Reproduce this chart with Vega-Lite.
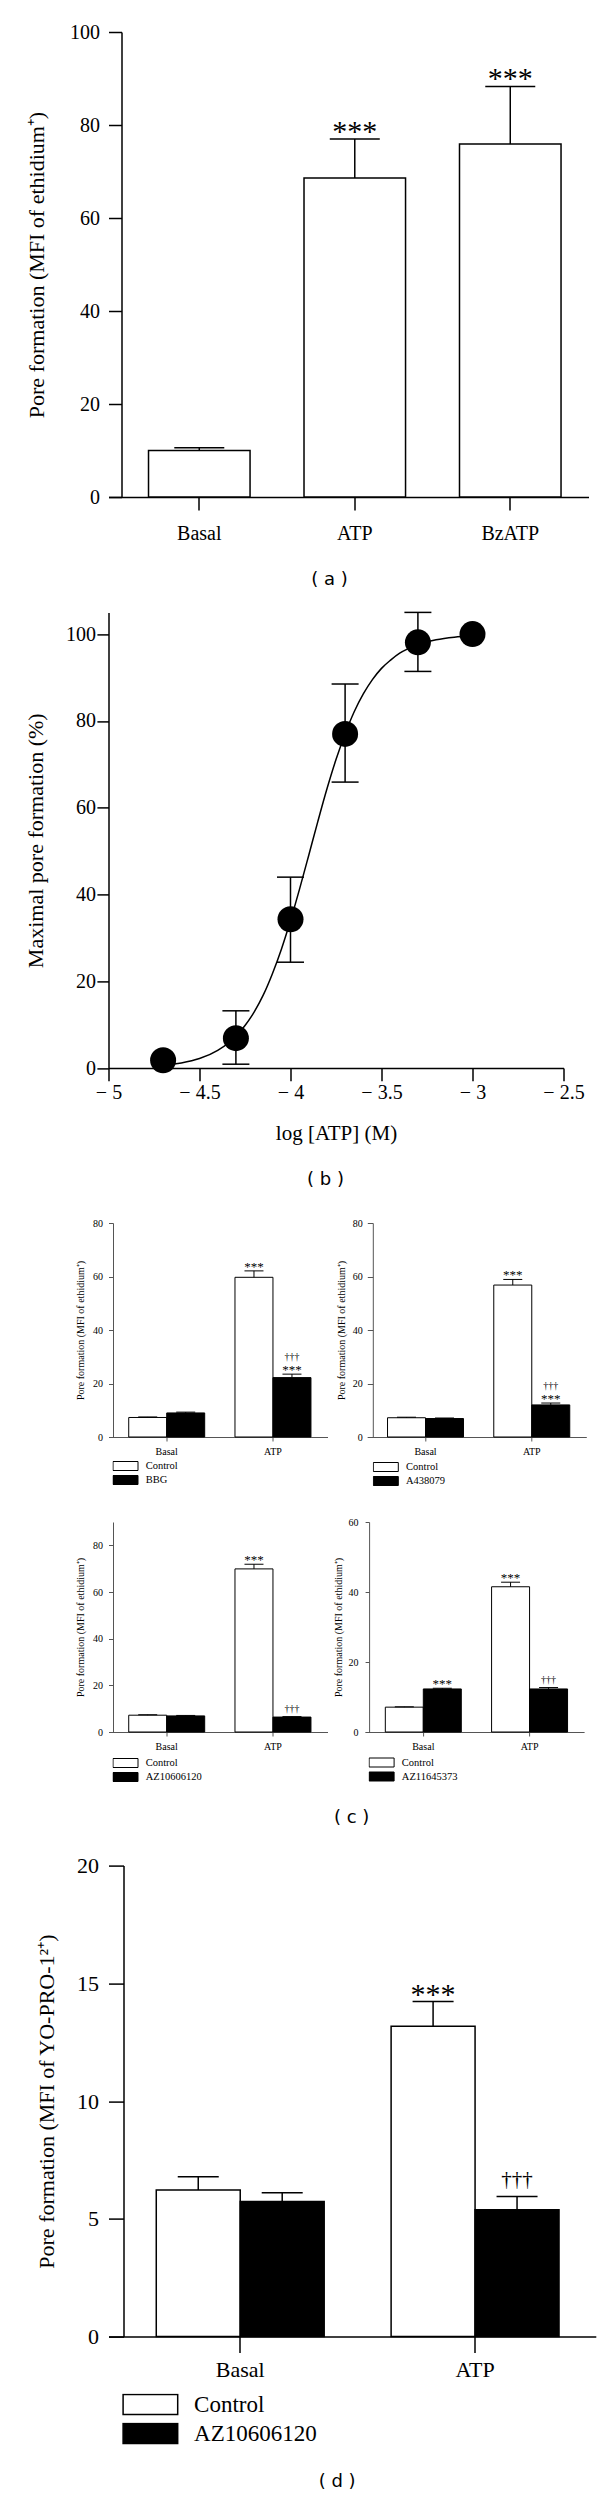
{
  "$schema": "https://vega.github.io/schema/vega-lite/v6.json",
  "padding": {"left": 23.5, "top": 22, "right": 5, "bottom": 2},
  "background": "white",
  "config": {
    "view": {"stroke": null},
    "font": "Liberation Serif",
    "axis": {"grid": false, "labelFont": "Liberation Serif", "titleFont": "Liberation Serif", "titleFontWeight": "normal", "labelColor": "black", "titleColor": "black", "domainColor": "black", "tickColor": "black", "labelFlush": false, "labelOverlap": false},
    "legend": {"labelFont": "Liberation Serif", "labelColor": "black"},
    "title": {"font": "DejaVu Sans", "fontSize": 18, "fontWeight": "normal", "color": "black"}
  },
  "datasets": {
    "a": [
      {"cond": "Basal", "v": 10.0, "hi": 10.6, "ann": ""},
      {"cond": "ATP", "v": 68.6, "hi": 77.0, "ann": "***"},
      {"cond": "BzATP", "v": 75.9, "hi": 88.3, "ann": "***"}
    ],
    "bpts": [
      {"x": -4.7, "y": 1.8},
      {"x": -4.3, "y": 6.9, "lo": 0.9, "hi": 13.2},
      {"x": -4.0, "y": 34.3, "lo": 24.4, "hi": 44.0},
      {"x": -3.7, "y": 77.0, "lo": 65.9, "hi": 88.5},
      {"x": -3.3, "y": 98.1, "lo": 91.4, "hi": 105.0},
      {"x": -3.0, "y": 100.0}
    ],
    "bcurve": [
      {"x": -4.70, "y": 0.7}, {"x": -4.60, "y": 1.2}, {"x": -4.50, "y": 2.2}, {"x": -4.40, "y": 4.1},
      {"x": -4.30, "y": 7.3}, {"x": -4.25, "y": 9.8}, {"x": -4.20, "y": 12.9}, {"x": -4.15, "y": 16.8},
      {"x": -4.10, "y": 21.7}, {"x": -4.05, "y": 27.4}, {"x": -4.00, "y": 34.0}, {"x": -3.95, "y": 41.3},
      {"x": -3.90, "y": 49.0}, {"x": -3.85, "y": 56.8}, {"x": -3.80, "y": 64.3}, {"x": -3.75, "y": 71.1},
      {"x": -3.70, "y": 77.0}, {"x": -3.65, "y": 82.1}, {"x": -3.60, "y": 86.2}, {"x": -3.55, "y": 89.5},
      {"x": -3.50, "y": 92.1}, {"x": -3.45, "y": 94.0}, {"x": -3.40, "y": 95.6}, {"x": -3.35, "y": 96.7},
      {"x": -3.30, "y": 97.6}, {"x": -3.20, "y": 98.7}, {"x": -3.10, "y": 99.3}, {"x": -3.00, "y": 99.6}
    ],
    "c1": [
      {"cond": "Basal", "trt": "Control", "v": 7.3, "hi": 7.5, "star": "", "dag": ""},
      {"cond": "Basal", "trt": "BBG", "v": 9.0, "hi": 9.3, "star": "", "dag": ""},
      {"cond": "ATP", "trt": "Control", "v": 59.7, "hi": 62.1, "star": "***", "dag": ""},
      {"cond": "ATP", "trt": "BBG", "v": 22.2, "hi": 23.5, "star": "***", "dag": "†††"}
    ],
    "c2": [
      {"cond": "Basal", "trt": "Control", "v": 7.2, "hi": 7.4, "star": "", "dag": ""},
      {"cond": "Basal", "trt": "A438079", "v": 6.9, "hi": 7.1, "star": "", "dag": ""},
      {"cond": "ATP", "trt": "Control", "v": 56.8, "hi": 58.9, "star": "***", "dag": ""},
      {"cond": "ATP", "trt": "A438079", "v": 12.0, "hi": 12.7, "star": "***", "dag": "†††"}
    ],
    "c3": [
      {"cond": "Basal", "trt": "Control", "v": 7.2, "hi": 7.4, "star": "", "dag": ""},
      {"cond": "Basal", "trt": "AZ10606120", "v": 6.9, "hi": 7.1, "star": "", "dag": ""},
      {"cond": "ATP", "trt": "Control", "v": 69.9, "hi": 71.9, "star": "***", "dag": ""},
      {"cond": "ATP", "trt": "AZ10606120", "v": 6.4, "hi": 6.6, "star": "", "dag": "†††"}
    ],
    "c4": [
      {"cond": "Basal", "trt": "Control", "v": 7.1, "hi": 7.2, "star": "", "dag": ""},
      {"cond": "Basal", "trt": "AZ11645373", "v": 12.3, "hi": 12.5, "star": "***", "dag": ""},
      {"cond": "ATP", "trt": "Control", "v": 41.5, "hi": 42.8, "star": "***", "dag": ""},
      {"cond": "ATP", "trt": "AZ11645373", "v": 12.3, "hi": 12.7, "star": "", "dag": "†††"}
    ],
    "d": [
      {"cond": "Basal", "trt": "Control", "v": 6.23, "hi": 6.79, "star": "", "dag": ""},
      {"cond": "Basal", "trt": "AZ10606120", "v": 5.74, "hi": 6.11, "star": "", "dag": ""},
      {"cond": "ATP", "trt": "Control", "v": 13.18, "hi": 14.23, "star": "***", "dag": ""},
      {"cond": "ATP", "trt": "AZ10606120", "v": 5.39, "hi": 5.95, "star": "", "dag": "†††"}
    ]
  },
  "columns": 1,
  "align": "none",
  "spacing": 22.4,
  "resolve": {"scale": {"fill": "independent", "x": "independent", "y": "independent", "xOffset": "independent"}, "legend": {"fill": "independent"}},
  "concat": [
    {
      "width": 480, "height": 465,
      "data": {"name": "a"},
      "title": {"text": "( a )", "orient": "bottom", "anchor": "middle", "frame": "group", "offset": 28, "dx": -19},
      "encoding": {
        "x": {"field": "cond", "type": "nominal", "sort": ["Basal", "ATP", "BzATP"],
          "scale": {"paddingInner": 0.347, "paddingOuter": 0.217, "align": 0.593},
          "axis": {"title": null, "labelAngle": 0, "labelFontSize": 20, "labelPadding": 13, "tickSize": 13, "tickWidth": 1.5, "domainWidth": 1.5}}
      },
      "layer": [
        {"mark": {"type": "bar", "fill": "white", "stroke": "black", "strokeWidth": 1.5},
         "encoding": {"y": {"field": "v", "type": "quantitative", "scale": {"domain": [0, 100], "nice": false},
           "axis": {"title": "Pore formation (MFI of ethidium⁺)", "values": [0, 20, 40, 60, 80, 100], "offset": -13, "tickSize": 13, "tickWidth": 1.5, "domainWidth": 1.5, "labelFontSize": 20, "labelPadding": 9, "titleFontSize": 22, "titlePadding": 21}}}},
        {"mark": {"type": "rule", "color": "black", "strokeWidth": 1.5},
         "encoding": {"y": {"field": "v", "type": "quantitative"}, "y2": {"field": "hi"}}},
        {"mark": {"type": "tick", "orient": "horizontal", "size": 50, "thickness": 1.5, "color": "black", "opacity": 1},
         "encoding": {"y": {"field": "hi", "type": "quantitative"}}},
        {"mark": {"type": "text", "fontSize": 30, "color": "black", "baseline": "alphabetic", "dy": 2},
         "encoding": {"y": {"field": "hi", "type": "quantitative"}, "text": {"field": "ann"}}}
      ]
    },
    {
      "columns": 1,
      "align": "none",
      "spacing": 28.6,
      "resolve": {"scale": {"fill": "independent", "x": "independent", "y": "independent", "xOffset": "independent"}, "legend": {"fill": "independent"}},
      "concat": [
        {
          "width": 455, "height": 455.7,
          "title": {"text": "( b )", "orient": "bottom", "anchor": "middle", "frame": "group", "offset": 27, "dx": -10.5},
          "layer": [
            {"data": {"name": "bcurve"},
             "mark": {"type": "line", "color": "black", "strokeWidth": 1.5, "interpolate": "monotone"},
             "encoding": {
               "x": {"field": "x", "type": "quantitative", "scale": {"domain": [-5, -2.5], "nice": false, "zero": false},
                 "axis": {"title": "log [ATP] (M)", "values": [-5, -4.5, -4, -3.5, -3, -2.5], "labelExpr": "'− ' + format(-datum.value, '')", "tickSize": 12.7, "tickWidth": 1.5, "domainWidth": 1.5, "labelPadding": 2, "labelFontSize": 20, "titleFontSize": 21, "titlePadding": 20}},
               "y": {"field": "y", "type": "quantitative", "scale": {"domain": [0, 105], "nice": false},
                 "axis": {"title": "Maximal pore formation (%)", "values": [0, 20, 40, 60, 80, 100], "tickSize": 11.6, "tickWidth": 1.5, "domainWidth": 1.5, "labelPadding": 1.5, "labelFontSize": 20, "titleFontSize": 22, "titlePadding": 18.2}}
             }},
            {"data": {"name": "bpts"},
             "mark": {"type": "rule", "color": "black", "strokeWidth": 1.5},
             "encoding": {"x": {"field": "x", "type": "quantitative"}, "y": {"field": "lo", "type": "quantitative"}, "y2": {"field": "hi"}}},
            {"data": {"name": "bpts"},
             "mark": {"type": "tick", "orient": "horizontal", "size": 27, "thickness": 1.5, "color": "black", "opacity": 1},
             "encoding": {"x": {"field": "x", "type": "quantitative"}, "y": {"field": "lo", "type": "quantitative"}}},
            {"data": {"name": "bpts"},
             "mark": {"type": "tick", "orient": "horizontal", "size": 27, "thickness": 1.5, "color": "black", "opacity": 1},
             "encoding": {"x": {"field": "x", "type": "quantitative"}, "y": {"field": "hi", "type": "quantitative"}}},
            {"data": {"name": "bpts"},
             "mark": {"type": "point", "filled": true, "color": "black", "opacity": 1, "size": 676},
             "encoding": {"x": {"field": "x", "type": "quantitative"}, "y": {"field": "y", "type": "quantitative"}}}
          ]
        },
        {
          "columns": 1,
          "align": "none",
          "spacing": 30,
          "resolve": {"scale": {"fill": "independent", "x": "independent", "y": "independent", "xOffset": "independent"}, "legend": {"fill": "independent"}},
          "concat": [
            {
              "hconcat": [
                {
                  "width": 219, "height": 214,
                  "data": {"name": "c1"},
                  "encoding": {
                    "x": {"field": "cond", "type": "nominal", "sort": ["Basal", "ATP"], "scale": {"paddingInner": 0.285, "paddingOuter": 0.173, "align": 0.55},
                      "axis": {"title": null, "labelAngle": 0, "labelFontSize": 10, "labelPadding": 5, "tickSize": 4, "domainColor": "#555", "tickColor": "#555"}},
                    "xOffset": {"field": "trt", "type": "nominal", "sort": ["Control", "BBG"], "scale": {"paddingInner": 0, "paddingOuter": 0}}
                  },
                  "layer": [
                    {"mark": {"type": "bar", "stroke": "black", "strokeWidth": 1},
                     "encoding": {
                       "y": {"field": "v", "type": "quantitative", "scale": {"domain": [0, 80], "nice": false},
                         "axis": {"title": "Pore formation (MFI of ethidium⁺)", "values": [0, 20, 40, 60, 80], "offset": -4.5, "tickSize": 4.5, "labelPadding": 6, "labelFontSize": 10, "titleFontSize": 10, "titlePadding": 7.4, "domainColor": "#555", "tickColor": "#555"}},
                       "fill": {"field": "trt", "type": "nominal", "scale": {"domain": ["Control", "BBG"], "range": ["white", "black"]},
                         "legend": {"title": null, "orient": "none", "legendX": 4, "legendY": 237.5, "symbolType": "M-1,-0.36H1V0.36H-1Z", "symbolSize": 625, "symbolStrokeColor": "black", "symbolStrokeWidth": 1, "clipHeight": 11, "rowPadding": 3, "labelFontSize": 10.5, "labelOffset": 7.2, "padding": 0}}
                     }},
                    {"mark": {"type": "rule", "color": "black", "strokeWidth": 1}, "encoding": {"y": {"field": "v", "type": "quantitative"}, "y2": {"field": "hi"}}},
                    {"mark": {"type": "tick", "orient": "horizontal", "size": 19, "thickness": 1, "color": "black", "opacity": 1}, "encoding": {"y": {"field": "hi", "type": "quantitative"}}},
                    {"mark": {"type": "text", "fontSize": 13, "color": "black", "baseline": "alphabetic", "dy": 0}, "encoding": {"y": {"field": "hi", "type": "quantitative"}, "text": {"field": "star"}}},
                    {"transform": [{"filter": "datum.dag != '' && datum.star == ''"}], "mark": {"type": "text", "fontSize": 10, "color": "black", "baseline": "alphabetic", "dy": -5}, "encoding": {"y": {"field": "hi", "type": "quantitative"}, "text": {"field": "dag"}}},
                    {"transform": [{"filter": "datum.dag != '' && datum.star != ''"}], "mark": {"type": "text", "fontSize": 10, "color": "black", "baseline": "alphabetic", "dy": -14}, "encoding": {"y": {"field": "hi", "type": "quantitative"}, "text": {"field": "dag"}}}
                  ]
                },
                {
                  "width": 219, "height": 214,
                  "data": {"name": "c2"},
                  "encoding": {
                    "x": {"field": "cond", "type": "nominal", "sort": ["Basal", "ATP"], "scale": {"paddingInner": 0.285, "paddingOuter": 0.173, "align": 0.55},
                      "axis": {"title": null, "labelAngle": 0, "labelFontSize": 10, "labelPadding": 5, "tickSize": 4, "domainColor": "#555", "tickColor": "#555"}},
                    "xOffset": {"field": "trt", "type": "nominal", "sort": ["Control", "A438079"], "scale": {"paddingInner": 0, "paddingOuter": 0}}
                  },
                  "layer": [
                    {"mark": {"type": "bar", "stroke": "black", "strokeWidth": 1},
                     "encoding": {
                       "y": {"field": "v", "type": "quantitative", "scale": {"domain": [0, 80], "nice": false},
                         "axis": {"title": "Pore formation (MFI of ethidium⁺)", "values": [0, 20, 40, 60, 80], "offset": -5.5, "tickSize": 5.5, "labelPadding": 5, "labelFontSize": 10, "titleFontSize": 10, "titlePadding": 5.6, "domainColor": "#555", "tickColor": "#555"}},
                       "fill": {"field": "trt", "type": "nominal", "scale": {"domain": ["Control", "A438079"], "range": ["white", "black"]},
                         "legend": {"title": null, "orient": "none", "legendX": 5.5, "legendY": 238.5, "symbolType": "M-1,-0.36H1V0.36H-1Z", "symbolSize": 625, "symbolStrokeColor": "black", "symbolStrokeWidth": 1, "clipHeight": 11, "rowPadding": 3, "labelFontSize": 10.5, "labelOffset": 7.2, "padding": 0}}
                     }},
                    {"mark": {"type": "rule", "color": "black", "strokeWidth": 1}, "encoding": {"y": {"field": "v", "type": "quantitative"}, "y2": {"field": "hi"}}},
                    {"mark": {"type": "tick", "orient": "horizontal", "size": 19, "thickness": 1, "color": "black", "opacity": 1}, "encoding": {"y": {"field": "hi", "type": "quantitative"}}},
                    {"mark": {"type": "text", "fontSize": 13, "color": "black", "baseline": "alphabetic", "dy": 0}, "encoding": {"y": {"field": "hi", "type": "quantitative"}, "text": {"field": "star"}}},
                    {"transform": [{"filter": "datum.dag != '' && datum.star == ''"}], "mark": {"type": "text", "fontSize": 10, "color": "black", "baseline": "alphabetic", "dy": -5}, "encoding": {"y": {"field": "hi", "type": "quantitative"}, "text": {"field": "dag"}}},
                    {"transform": [{"filter": "datum.dag != '' && datum.star != ''"}], "mark": {"type": "text", "fontSize": 10, "color": "black", "baseline": "alphabetic", "dy": -14}, "encoding": {"y": {"field": "hi", "type": "quantitative"}, "text": {"field": "dag"}}}
                  ]
                }
              ],
              "spacing": 8.8,
              "resolve": {"scale": {"fill": "independent", "x": "independent", "y": "independent", "xOffset": "independent"}, "legend": {"fill": "independent"}}
            },
            {
              "columns": 1,
              "align": "none",
              "spacing": 27.6,
              "resolve": {"scale": {"fill": "independent", "x": "independent", "y": "independent", "xOffset": "independent"}, "legend": {"fill": "independent"}},
              "concat": [
                {
                  "title": {"text": "( c )", "orient": "bottom", "anchor": "middle", "frame": "bounds", "offset": 26.4, "dx": 22},
                  "hconcat": [
                    {
                      "width": 219, "height": 210,
                      "data": {"name": "c3"},
                      "encoding": {
                        "x": {"field": "cond", "type": "nominal", "sort": ["Basal", "ATP"], "scale": {"paddingInner": 0.285, "paddingOuter": 0.173, "align": 0.55},
                          "axis": {"title": null, "labelAngle": 0, "labelFontSize": 10, "labelPadding": 5, "tickSize": 4, "domainColor": "#555", "tickColor": "#555"}},
                        "xOffset": {"field": "trt", "type": "nominal", "sort": ["Control", "AZ10606120"], "scale": {"paddingInner": 0, "paddingOuter": 0}}
                      },
                      "layer": [
                        {"mark": {"type": "bar", "stroke": "black", "strokeWidth": 1},
                         "encoding": {
                           "y": {"field": "v", "type": "quantitative", "scale": {"domain": [0, 90], "nice": false},
                             "axis": {"title": "Pore formation (MFI of ethidium⁺)", "values": [0, 20, 40, 60, 80], "offset": -4.5, "tickSize": 4.5, "labelPadding": 6, "labelFontSize": 10, "titleFontSize": 10, "titlePadding": 7.4, "domainColor": "#555", "tickColor": "#555"}},
                           "fill": {"field": "trt", "type": "nominal", "scale": {"domain": ["Control", "AZ10606120"], "range": ["white", "black"]},
                             "legend": {"title": null, "orient": "none", "legendX": 4, "legendY": 235.5, "symbolType": "M-1,-0.36H1V0.36H-1Z", "symbolSize": 625, "symbolStrokeColor": "black", "symbolStrokeWidth": 1, "clipHeight": 11, "rowPadding": 3, "labelFontSize": 10.5, "labelOffset": 7.2, "padding": 0}}
                         }},
                        {"mark": {"type": "rule", "color": "black", "strokeWidth": 1}, "encoding": {"y": {"field": "v", "type": "quantitative"}, "y2": {"field": "hi"}}},
                        {"mark": {"type": "tick", "orient": "horizontal", "size": 19, "thickness": 1, "color": "black", "opacity": 1}, "encoding": {"y": {"field": "hi", "type": "quantitative"}}},
                        {"mark": {"type": "text", "fontSize": 13, "color": "black", "baseline": "alphabetic", "dy": 0}, "encoding": {"y": {"field": "hi", "type": "quantitative"}, "text": {"field": "star"}}},
                        {"transform": [{"filter": "datum.dag != '' && datum.star == ''"}], "mark": {"type": "text", "fontSize": 10, "color": "black", "baseline": "alphabetic", "dy": -5}, "encoding": {"y": {"field": "hi", "type": "quantitative"}, "text": {"field": "dag"}}},
                        {"transform": [{"filter": "datum.dag != '' && datum.star != ''"}], "mark": {"type": "text", "fontSize": 10, "color": "black", "baseline": "alphabetic", "dy": -14}, "encoding": {"y": {"field": "hi", "type": "quantitative"}, "text": {"field": "dag"}}}
                      ]
                    },
                    {
                      "width": 219, "height": 210,
                      "data": {"name": "c4"},
                      "encoding": {
                        "x": {"field": "cond", "type": "nominal", "sort": ["Basal", "ATP"], "scale": {"paddingInner": 0.285, "paddingOuter": 0.173, "align": 0.55},
                          "axis": {"title": null, "labelAngle": 0, "labelFontSize": 10, "labelPadding": 5, "tickSize": 4, "domainColor": "#555", "tickColor": "#555"}},
                        "xOffset": {"field": "trt", "type": "nominal", "sort": ["Control", "AZ11645373"], "scale": {"paddingInner": 0, "paddingOuter": 0}}
                      },
                      "layer": [
                        {"mark": {"type": "bar", "stroke": "black", "strokeWidth": 1},
                         "encoding": {
                           "y": {"field": "v", "type": "quantitative", "scale": {"domain": [0, 60], "nice": false},
                             "axis": {"title": "Pore formation (MFI of ethidium⁺)", "values": [0, 20, 40, 60], "offset": -4, "tickSize": 4, "labelPadding": 7, "labelFontSize": 10, "titleFontSize": 10, "titlePadding": 4.7, "domainColor": "#555", "tickColor": "#555"}},
                           "fill": {"field": "trt", "type": "nominal", "scale": {"domain": ["Control", "AZ11645373"], "range": ["white", "black"]},
                             "legend": {"title": null, "orient": "none", "legendX": 3.5, "legendY": 235, "symbolType": "M-1,-0.36H1V0.36H-1Z", "symbolSize": 625, "symbolStrokeColor": "black", "symbolStrokeWidth": 1, "clipHeight": 11, "rowPadding": 3, "labelFontSize": 10.5, "labelOffset": 7.2, "padding": 0}}
                         }},
                        {"mark": {"type": "rule", "color": "black", "strokeWidth": 1}, "encoding": {"y": {"field": "v", "type": "quantitative"}, "y2": {"field": "hi"}}},
                        {"mark": {"type": "tick", "orient": "horizontal", "size": 19, "thickness": 1, "color": "black", "opacity": 1}, "encoding": {"y": {"field": "hi", "type": "quantitative"}}},
                        {"mark": {"type": "text", "fontSize": 13, "color": "black", "baseline": "alphabetic", "dy": 0}, "encoding": {"y": {"field": "hi", "type": "quantitative"}, "text": {"field": "star"}}},
                        {"transform": [{"filter": "datum.dag != '' && datum.star == ''"}], "mark": {"type": "text", "fontSize": 10, "color": "black", "baseline": "alphabetic", "dy": -5}, "encoding": {"y": {"field": "hi", "type": "quantitative"}, "text": {"field": "dag"}}},
                        {"transform": [{"filter": "datum.dag != '' && datum.star != ''"}], "mark": {"type": "text", "fontSize": 10, "color": "black", "baseline": "alphabetic", "dy": -14}, "encoding": {"y": {"field": "hi", "type": "quantitative"}, "text": {"field": "dag"}}}
                      ]
                    }
                  ],
                  "spacing": 5.6,
                  "resolve": {"scale": {"fill": "independent", "x": "independent", "y": "independent", "xOffset": "independent"}, "legend": {"fill": "independent"}}
                },
                {
                  "width": 487.3, "height": 471,
                  "data": {"name": "d"},
                  "title": {"text": "( d )", "orient": "bottom", "anchor": "middle", "frame": "group", "offset": 27.5, "dx": -15},
                  "encoding": {
                    "x": {"field": "cond", "type": "nominal", "sort": ["Basal", "ATP"], "scale": {"paddingInner": 0.285, "paddingOuter": 0.18, "align": 0.565},
                      "axis": {"title": null, "labelAngle": 0, "labelFontSize": 22, "labelPadding": 7, "tickSize": 16, "tickWidth": 1.5, "domainWidth": 1.5}},
                    "xOffset": {"field": "trt", "type": "nominal", "sort": ["Control", "AZ10606120"], "scale": {"paddingInner": 0, "paddingOuter": 0}}
                  },
                  "layer": [
                    {"mark": {"type": "bar", "stroke": "black", "strokeWidth": 1.5},
                     "encoding": {
                       "y": {"field": "v", "type": "quantitative", "scale": {"domain": [0, 20], "nice": false},
                         "axis": {"title": "Pore formation (MFI of YO-PRO-1²⁺)", "values": [0, 5, 10, 15, 20], "offset": -15, "tickSize": 15, "tickWidth": 1.5, "domainWidth": 1.5, "labelPadding": 10, "labelFontSize": 22, "titleFontSize": 22, "titlePadding": 17.7}},
                       "fill": {"field": "trt", "type": "nominal", "scale": {"domain": ["Control", "AZ10606120"], "range": ["white", "black"]},
                         "legend": {"title": null, "orient": "none", "legendX": 13.4, "legendY": 528, "symbolType": "M-1,-0.366H1V0.366H-1Z", "symbolSize": 2981, "symbolStrokeColor": "black", "symbolStrokeWidth": 1.5, "clipHeight": 22, "rowPadding": 6, "labelFontSize": 23, "labelOffset": 15.2, "padding": 0}}
                     }},
                    {"mark": {"type": "rule", "color": "black", "strokeWidth": 1.5}, "encoding": {"y": {"field": "v", "type": "quantitative"}, "y2": {"field": "hi"}}},
                    {"mark": {"type": "tick", "orient": "horizontal", "size": 41, "thickness": 1.5, "color": "black", "opacity": 1}, "encoding": {"y": {"field": "hi", "type": "quantitative"}}},
                    {"mark": {"type": "text", "fontSize": 30, "color": "black", "baseline": "alphabetic", "dy": 3}, "encoding": {"y": {"field": "hi", "type": "quantitative"}, "text": {"field": "star"}}},
                    {"mark": {"type": "text", "fontSize": 21, "color": "black", "baseline": "alphabetic", "dy": -10}, "encoding": {"y": {"field": "hi", "type": "quantitative"}, "text": {"field": "dag"}}}
                  ]
                }
              ]
            }
          ]
        }
      ]
    }
  ]
}
